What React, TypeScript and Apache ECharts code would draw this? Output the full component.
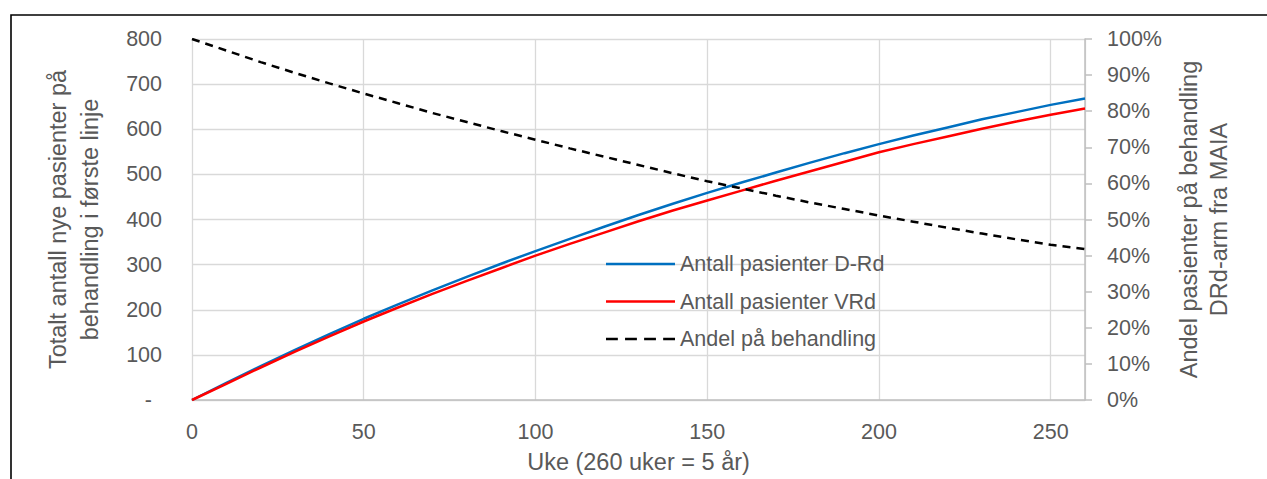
import React, { useEffect, useRef } from "react";
import * as echarts from "echarts";

const weeks = [0, 10, 20, 30, 40, 50, 60, 70, 80, 90, 100, 110, 120, 130, 140, 150, 160, 170, 180, 190, 200, 210, 220, 230, 240, 250, 260];
const antallDRd = [0, 38, 75, 111, 146, 180, 212, 243, 273, 302, 330, 357, 384, 410, 435, 459, 482, 504, 526, 547, 567, 586, 604, 622, 638, 654, 668];
const antallVRd = [0, 36, 72, 107, 141, 174, 205, 235, 264, 292, 320, 346, 371, 396, 420, 442, 464, 486, 507, 528, 549, 567, 584, 601, 617, 632, 646];
const andelPaaBehandling = [100, 96.8, 93.6, 90.6, 87.7, 84.9, 82.2, 79.5, 77.0, 74.5, 72.1, 69.7, 67.4, 65.1, 62.8, 60.6, 58.6, 56.6, 54.7, 52.9, 51.1, 49.4, 47.7, 46.1, 44.5, 43.0, 41.8];

const seriesNames = ["Antall pasienter D-Rd", "Antall pasienter VRd", "Andel på behandling"];
const xTitle = "Uke (260 uker = 5 år)";
const leftTitle = "Totalt antall nye pasienter på\nbehandling i første linje";
const rightTitle = "Andel pasienter på behandling\nDRd-arm fra MAIA";

const FONT = "Liberation Sans";
const TXT = "#595959";
const LBL = 21.5;
const TTL = 23.5;

const solidIcon = "path://M0,0h69v2.5h-69z";
const dashedIcon = "path://M0,0h11.5v2.5h-11.5z M18.5,0h11.5v2.5h-11.5z M37,0h11.5v2.5h-11.5z M55.5,0h11.5v2.5h-11.5z";

export default function App() {
  const ref = useRef<HTMLDivElement>(null);
  useEffect(() => {
    if (!ref.current) return;
    const chart = echarts.init(ref.current, null, { renderer: "svg" });
    const pair = (arr: number[]) => weeks.map((w, i) => [w, arr[i]]);
    chart.setOption({
      animation: false,
      backgroundColor: "#fff",
      textStyle: { fontFamily: FONT },
      graphic: [
        {
          type: "rect",
          shape: { x: 11, y: 15, width: 1300, height: 520 },
          style: { fill: "none", stroke: "#000", lineWidth: 1.6 },
          silent: true,
          z: 100,
        },
      ],
      grid: { left: 192, right: 182, top: 39, bottom: 76, containLabel: false },
      legend: {
        orient: "vertical",
        left: 601,
        top: 248,
        itemWidth: 69,
        itemHeight: 22,
        itemGap: 15.5,
        itemTextGap: 8,
        symbolKeepAspect: true,
        textStyle: { color: TXT, fontSize: LBL, fontFamily: FONT },
        data: [
          { name: seriesNames[0], icon: solidIcon },
          { name: seriesNames[1], icon: solidIcon },
          { name: seriesNames[2], icon: dashedIcon },
        ],
      },
      xAxis: {
        type: "value",
        min: 0,
        max: 260,
        interval: 50,
        name: xTitle,
        nameLocation: "middle",
        nameGap: 50,
        nameTextStyle: { color: TXT, fontSize: TTL, fontFamily: FONT },
        axisLine: { show: true, lineStyle: { color: "#bfbfbf", width: 1.5 } },
        axisTick: { show: false },
        axisLabel: {
          color: TXT,
          fontSize: LBL,
          fontFamily: FONT,
          margin: 21,
          formatter: (v: number) => (v === 260 ? "" : String(v)),
        },
        splitLine: { show: true, lineStyle: { color: "#d9d9d9", width: 1.3 } },
      },
      yAxis: [
        {
          type: "value",
          min: 0,
          max: 800,
          interval: 100,
          position: "left",
          name: leftTitle,
          nameLocation: "middle",
          nameRotate: 90,
          nameGap: 86,
          nameTextStyle: { color: TXT, fontSize: TTL, fontFamily: FONT, lineHeight: 32 },
          axisLine: { show: false },
          axisTick: { show: false },
          axisLabel: {
            color: TXT,
            fontSize: LBL,
            fontFamily: FONT,
            margin: 30,
            formatter: (v: number) => (v === 0 ? "{d|-}" : String(v)),
            rich: { d: { color: TXT, fontSize: LBL, fontFamily: FONT, padding: [0, 10, 0, 0] } },
          },
          splitLine: { show: true, lineStyle: { color: "#d9d9d9", width: 1.3 } },
        },
        {
          type: "value",
          min: 0,
          max: 100,
          interval: 10,
          position: "right",
          name: rightTitle,
          nameLocation: "middle",
          nameRotate: 90,
          nameGap: 89,
          nameTextStyle: { color: TXT, fontSize: TTL, fontFamily: FONT, lineHeight: 30 },
          axisLine: { show: true, lineStyle: { color: "#bfbfbf", width: 1.5 } },
          axisTick: { show: true, length: 7, lineStyle: { color: "#bfbfbf", width: 1.5 } },
          axisLabel: {
            color: TXT,
            fontSize: LBL,
            fontFamily: FONT,
            margin: 22,
            formatter: "{value}%",
          },
          splitLine: { show: false },
        },
      ],
      series: [
        {
          name: seriesNames[0],
          type: "line",
          yAxisIndex: 0,
          data: pair(antallDRd),
          symbol: "none",
          smooth: false,
          lineStyle: { color: "#0070C0", width: 2.5 },
          itemStyle: { color: "#0070C0" },
          z: 3,
        },
        {
          name: seriesNames[1],
          type: "line",
          yAxisIndex: 0,
          data: pair(antallVRd),
          symbol: "none",
          smooth: false,
          lineStyle: { color: "#FF0000", width: 2.5 },
          itemStyle: { color: "#FF0000" },
          z: 4,
        },
        {
          name: seriesNames[2],
          type: "line",
          yAxisIndex: 1,
          data: pair(andelPaaBehandling),
          symbol: "none",
          smooth: false,
          lineStyle: { color: "#000000", width: 2.5, type: [8, 6] },
          itemStyle: { color: "#000000" },
          z: 5,
        },
      ],
    });
    return () => chart.dispose();
  }, []);
  return (
    <div
      ref={ref}
      style={{ position: "fixed", left: 0, top: 0, width: 1267, height: 479 }}
    />
  );
}
